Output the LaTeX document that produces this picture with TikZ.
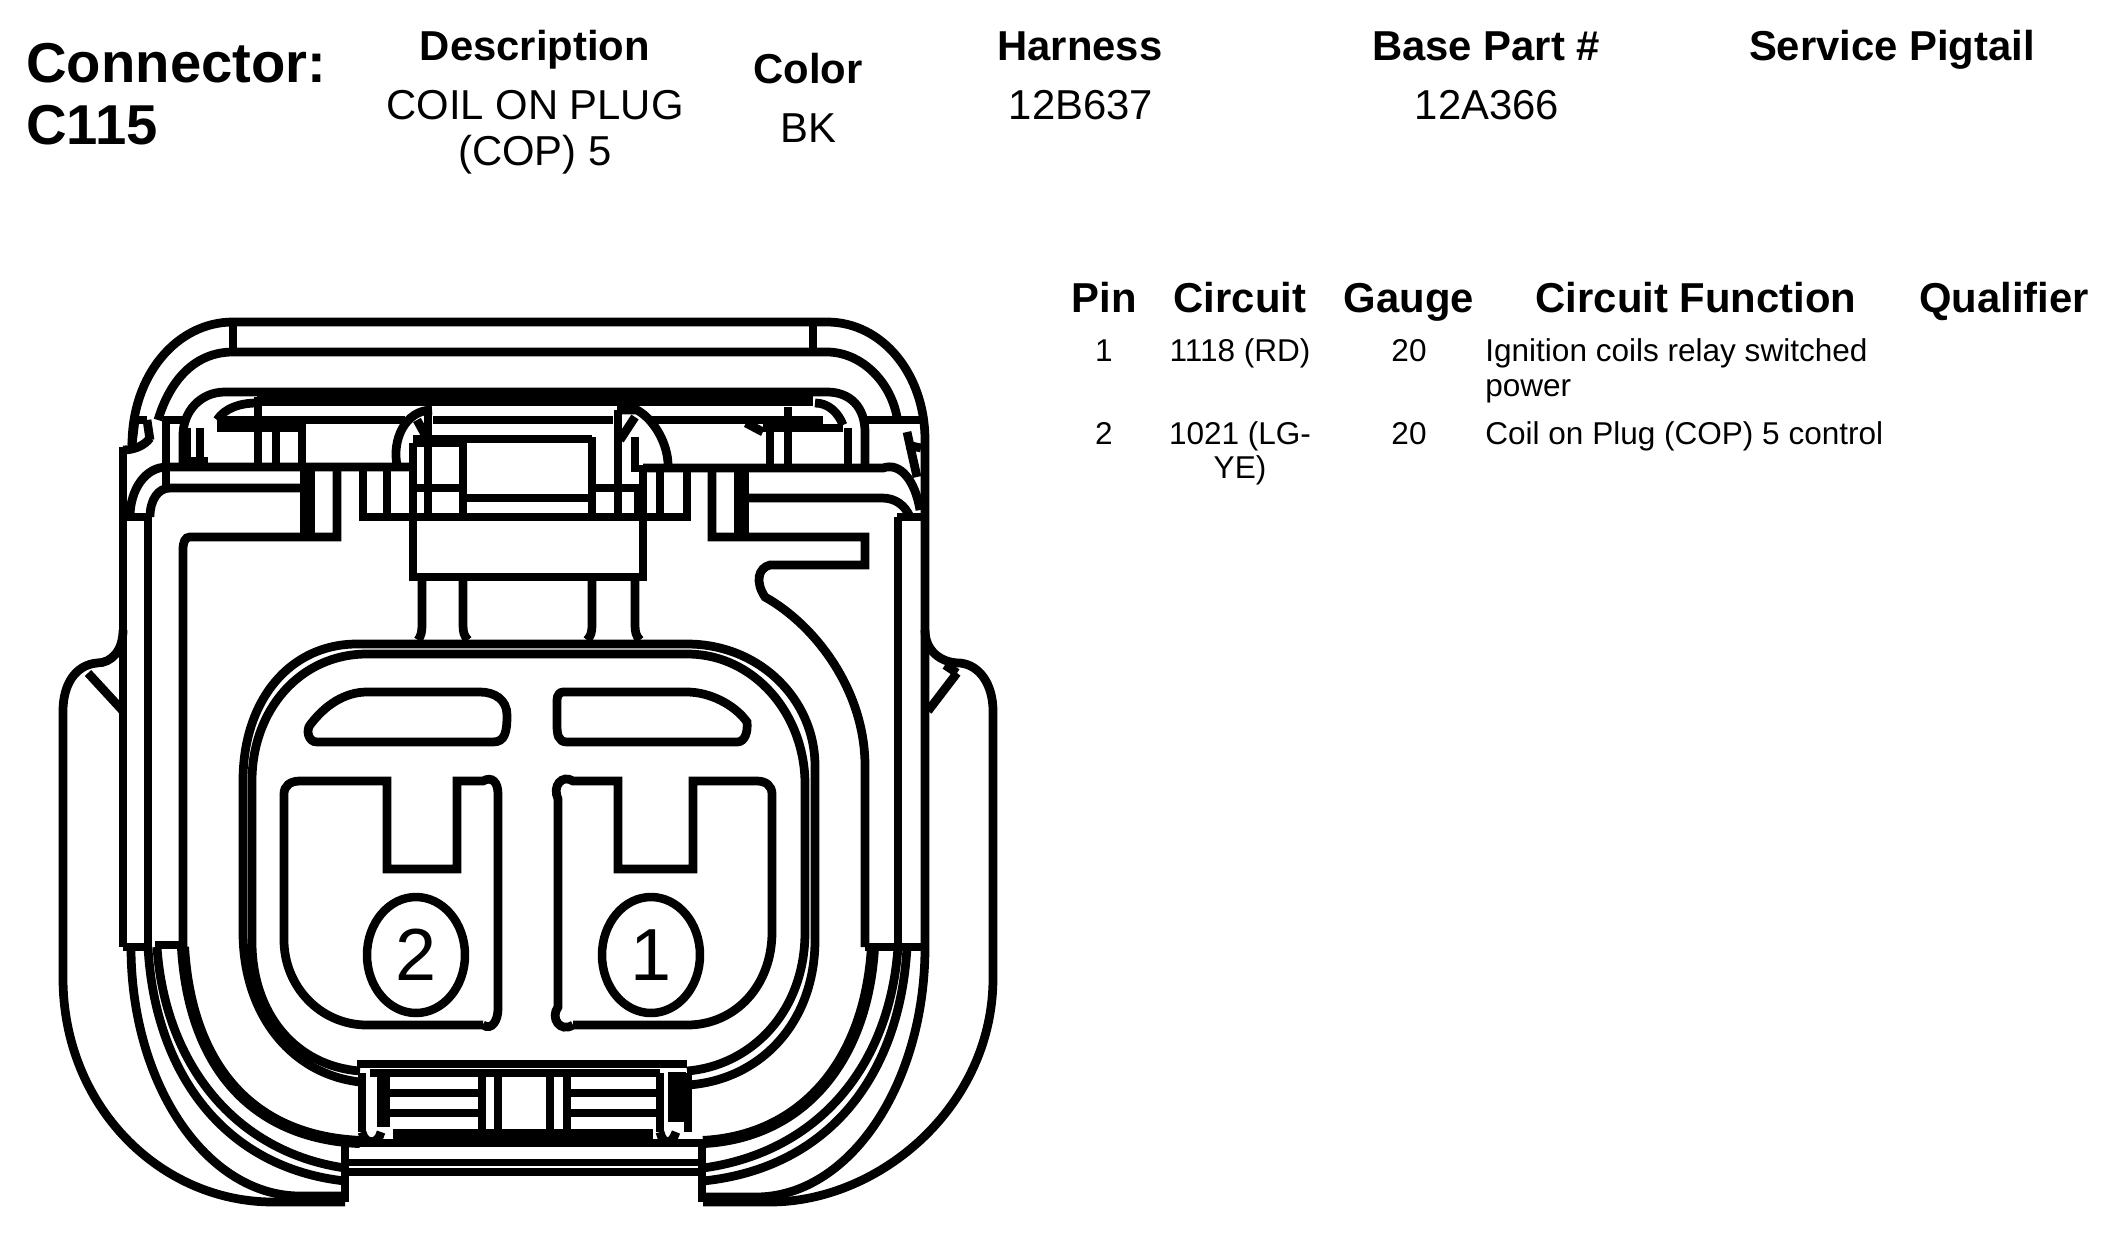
\documentclass[tikz,border=0pt]{standalone}
\usepackage{fontspec}
\usepackage{xcolor}
\usetikzlibrary{shapes.geometric}
\setmainfont{Liberation Sans}
\tikzset{
  wall/.style={draw=black,line width=0.175cm},
  thin wall/.style={draw=black,line width=0.15cm},
  heavy wall/.style={draw=black,line width=0.24cm},
  pinoval/.style={draw=black,line width=0.17cm,ellipse,inner sep=0pt,minimum width=1.96cm,minimum height=2.32cm,font=\fontsize{42}{42}\selectfont},
  bighead/.style={anchor=base west,inner sep=0pt,font=\fontsize{32}{36}\selectfont\bfseries},
  colhead/.style={anchor=base,inner sep=0pt,font=\fontsize{23.8}{26}\selectfont\bfseries},
  colval/.style={anchor=base,inner sep=0pt,font=\fontsize{23.8}{26}\selectfont},
  rowtext/.style={anchor=base,inner sep=0pt,font=\fontsize{17.95}{20}\selectfont},
  rowleft/.style={rowtext,anchor=base west}
}
\begin{document}
\begin{tikzpicture}[x=0.02cm,y=-0.02cm]
\useasboundingbox (0,0) rectangle (2116,1241);

% Title row
\node[bighead] (conn) at (26,82) {Connector:};
\node[bighead] (connid) at (26,144) {C115};
\node[colhead] (deschead) at (535,60) {Description};
\node[colval] (desc1) at (535,119) {COIL ON PLUG};
\node[colval] (desc2) at (535,165) {(COP) 5};
\node[colhead] (colorhead) at (808,83) {Color};
\node[colval] (colorval) at (808,142) {BK};
\node[colhead] (harnhead) at (1080,60) {Harness};
\node[colval] (harnval) at (1081,119) {12B637};
\node[colhead] (basehead) at (1486,60) {Base Part \#};
\node[colval] (baseval) at (1487,119) {12A366};
\node[colhead] (pighead) at (1892,60) {Service Pigtail};

% Pin table
\node[colhead] (pinhead) at (1104,312) {Pin};
\node[colhead] (circhead) at (1240,312) {Circuit};
\node[colhead] (gaugehead) at (1409,312) {Gauge};
\node[colhead] (funchead) at (1696,312) {Circuit Function};
\node[colhead] (qualhead) at (2004,312) {Qualifier};
\node[rowtext] (pin1) at (1104,361) {1};
\node[rowtext] (circ1) at (1240,361) {1118 (RD)};
\node[rowtext] (gauge1) at (1409,361) {20};
\node[rowleft] (func1a) at (1485,361) {Ignition coils relay switched};
\node[rowleft] (func1b) at (1485,396) {power};
\node[rowtext] (pin2row) at (1104,444) {2};
\node[rowtext] (circ2a) at (1240,444) {1021 (LG-};
\node[rowtext] (circ2b) at (1240,478) {YE)};
\node[rowtext] (gauge2) at (1409,444) {20};
\node[rowleft] (func2) at (1485,444) {Coil on Plug (COP) 5 control};

% Outer shell
\draw[wall] (132,445) .. controls (132,375) and (177,322) .. (233,322) -- (827,322) .. controls (883,322) and (925,375) .. (925,440) -- (925,947);
\draw[wall] (158,420) .. controls (170,380) and (195,352) .. (233,352) -- (827,352) .. controls (860,352) and (890,380) .. (897,417);
\draw[wall] (233,322) -- (233,352);
\draw[wall] (813,322) -- (813,352);
\draw[wall] (123,447) -- (123,947);
\draw[wall] (123,450) .. controls (135,450) and (145,445) .. (150,438);
\draw[wall] (135,420) -- (147,420);
\draw[wall] (135,420) -- (132,445);
\draw[wall] (147,420) -- (150,440);
\draw[wall] (907,432) -- (917,477);
\draw[wall] (907,445) -- (921,448);
\draw[wall] (148,517) -- (148,947);
\draw[wall] (898,517) -- (898,947);
\draw[wall] (123,947) -- (150,947);
\draw[wall] (155,945) -- (183,945);
\draw[wall] (865,947) -- (925,947);
\draw[wall] (123,517) -- (150,517);
\draw[wall] (897,517) -- (925,517);

% Side latches
\draw[wall] (123,630) .. controls (123,650) and (112,663) .. (97,663) .. controls (75,665) and (63,685) .. (63,711) -- (63,978) .. controls (63,1106) and (160,1202) .. (273,1202) -- (345,1202);
\draw[wall] (925,630) .. controls (925,650) and (940,663) .. (960,663) .. controls (980,665) and (993,685) .. (993,711) -- (993,978) .. controls (993,1106) and (880,1202) .. (770,1202) -- (703,1202);
\draw[wall] (88,673) -- (123,711);
\draw[wall] (957,673) -- (928,711);
\draw[wall] (945,665) -- (957,673);

% Top rail
\draw[line width=0.34cm] (257,397) -- (813,397);
\draw[wall] (183,463) -- (183,435) .. controls (183,412) and (200,392) .. (225,392) -- (827,392) .. controls (850,392) and (865,407) .. (865,432) -- (865,465);
\draw[wall] (217,420) .. controls (225,408) and (240,403) .. (257,403);
\draw[wall] (815,403) .. controls (828,403) and (838,412) .. (843,425);
\draw[wall] (163,420) -- (183,420);
\draw[wall] (217,420) -- (405,420);
\draw[wall] (433,420) -- (613,420);
\draw[wall] (650,420) -- (823,420);
\draw[wall] (867,420) -- (923,420);
\draw[thin wall] (217,428) -- (303,428);
\draw[thin wall] (763,428) -- (843,428);
\foreach \xa/\ya/\yb in {166/420/490,187/428/465,200/428/465,258/397/465,276/428/465,302/423/465,770/428/465,788/407/465,848/428/465}
  \draw[wall] (\xa,\ya) -- (\xa,\yb);
\draw[wall] (183,461) -- (208,461);
\draw[wall] (746,423) -- (763,432);

% Shoulder rails
\draw[wall] (130,517) .. controls (130,490) and (145,467) .. (167,467) -- (413,467);
\draw[wall] (150,517) .. controls (150,500) and (158,488) .. (170,488) -- (300,488);
\draw[wall] (643,468) -- (883,468) .. controls (900,462) and (915,480) .. (920,510);
\draw[wall] (747,498) -- (882,498) .. controls (895,498) and (905,505) .. (910,517);
\draw[wall] (183,947) -- (183,550) .. controls (183,542) and (185,537) .. (190,537) -- (337,537) -- (337,468);
\draw[line width=0.3cm] (307,468) -- (307,540);
\draw[wall] (363,468) -- (363,517) -- (687,517) -- (687,468);
\draw[wall] (387,468) -- (387,515);
\draw[wall] (660,468) -- (660,515);
\draw[wall] (712,468) -- (712,537) -- (865,537) -- (865,565) -- (770,565) .. controls (758,568) and (755,582) .. (765,597) .. controls (815,625) and (865,690) .. (865,766) -- (865,947);
\draw[line width=0.3cm] (741,468) -- (741,538);

% Centre lock block
\draw[wall] (413,443) -- (413,577) -- (643,577) -- (643,465);
\draw[heavy wall] (413,441) -- (467,441);
\draw[wall] (433,439) -- (592,439);
\draw[wall] (463,440) -- (463,517);
\draw[wall] (428,410) -- (428,513);
\draw[wall] (618,410) -- (618,513);
\draw[wall] (592,437) -- (592,517);
\draw[wall] (635,437) -- (635,472);
\draw[wall] (413,488) -- (463,488);
\draw[wall] (592,488) -- (640,488);
\draw[wall] (467,498) -- (588,498);
\draw[line width=0.24cm] (640,488) -- (640,517);
\draw[wall] (432,410) .. controls (405,410) and (392,440) .. (397,465);
\draw[wall] (417,420) -- (428,440);
\draw[wall] (617,410) -- (637,410) .. controls (655,420) and (668,445) .. (668,465);
\draw[wall] (635,417) -- (620,440);

% Lock legs
\draw[wall] (422,577) -- (422,625) .. controls (422,632) and (421,636) .. (418,640);
\draw[wall] (463,577) -- (463,625) .. controls (463,632) and (464,636) .. (468,640);
\draw[wall] (592,577) -- (592,625) .. controls (592,632) and (591,636) .. (587,640);
\draw[wall] (635,577) -- (635,625) .. controls (635,632) and (636,636) .. (640,640);

% Housing, double wall
\draw[wall] (360,1082) .. controls (290,1074) and (243,1013) .. (243,932) -- (243,781) .. controls (243,700) and (290,644) .. (357,644) -- (687,644) .. controls (760,644) and (815,700) .. (815,766) -- (815,940) .. controls (815,1023) and (760,1080) .. (688,1085);
\draw[wall] (360,1071) .. controls (295,1066) and (252,1013) .. (252,942) -- (252,781) .. controls (252,710) and (300,654) .. (367,654) -- (687,654) .. controls (755,654) and (805,715) .. (805,784) -- (805,932) .. controls (805,1013) and (750,1066) .. (687,1071);
\draw[wall] (357,1064) -- (687,1064);
\draw[wall] (370,1073) -- (660,1073);

% Top slots
\draw[wall] (367,692) -- (480,692) .. controls (495,692) and (507,700) .. (507,715) .. controls (507,732) and (505,742) .. (493,742) -- (317,742) .. controls (308,742) and (306,730) .. (310,725) .. controls (325,705) and (345,692) .. (367,692) -- cycle;
\draw[wall] (563,692) -- (687,692) .. controls (710,692) and (735,705) .. (747,722) .. controls (748,732) and (745,742) .. (737,742) -- (567,742) .. controls (558,742) and (557,734) .. (557,725) -- (557,700) .. controls (557,695) and (560,692) .. (563,692) -- cycle;

% Pin cavities
\draw[wall] (483,1025) -- (367,1025) .. controls (320,1025) and (284,986) .. (284,940) -- (284,794) .. controls (284,786) and (290,781) .. (300,781) -- (387,781) -- (387,869) -- (457,869) -- (457,781) -- (483,781) .. controls (492,776) and (498,782) .. (498,794) -- (498,1009) .. controls (498,1020) and (492,1031) .. (483,1025);
\draw[wall] (573,1025) -- (687,1025) .. controls (735,1025) and (772,986) .. (772,932) -- (772,794) .. controls (772,786) and (766,781) .. (757,781) -- (693,781) -- (693,869) -- (618,869) -- (618,781) -- (573,781) .. controls (562,774) and (552,786) .. (558,799) -- (558,1007) .. controls (550,1018) and (560,1033) .. (573,1025);
\node[pinoval] (pin2) at (416,955) {2};
\node[pinoval] (pin1oval) at (651,955) {1};

% Bottom latch ribs
\draw[wall] (131,947) .. controls (131,1085) and (207,1196) .. (300,1196) -- (345,1196);
\draw[wall] (148,947) .. controls (155,1074) and (225,1168) .. (345,1181);
\draw[wall] (157,947) .. controls (165,1064) and (235,1152) .. (345,1168);
\draw[heavy wall] (183,947) .. controls (190,1064) and (250,1137) .. (360,1142);
\draw[wall] (925,947) .. controls (925,1085) and (849,1197) .. (756,1197) -- (703,1197);
\draw[wall] (907,947) .. controls (900,1074) and (830,1168) .. (703,1181);
\draw[wall] (898,947) .. controls (890,1064) and (820,1152) .. (703,1168);
\draw[heavy wall] (873,947) .. controls (866,1064) and (800,1137) .. (703,1142);

% Bottom clip
\draw[wall] (345,1202) -- (345,1143) -- (393,1143);
\draw[wall] (702,1202) -- (702,1143) -- (653,1143);
\draw[thin wall] (345,1162.5) -- (702,1162.5);
\draw[thin wall] (345,1172) -- (702,1172);
\draw[line width=0.36cm] (393,1138) -- (653,1138);
\foreach \xa in {362,482,498,550,567,660,688}
  \draw[wall] (\xa,1073) -- (\xa,1132);
\draw[line width=0.26cm] (383,1072) -- (383,1127);
\draw[line width=0.36cm] (677,1072) -- (677,1122);
\foreach \ya in {1093,1113} {
  \draw[wall] (390,\ya) -- (480,\ya);
  \draw[wall] (570,\ya) -- (657,\ya);
}
\draw[wall] (362,1132) .. controls (365,1145) and (378,1145) .. (381,1132);
\draw[wall] (660,1132) .. controls (663,1145) and (672,1145) .. (676,1132);
\end{tikzpicture}
\end{document}
